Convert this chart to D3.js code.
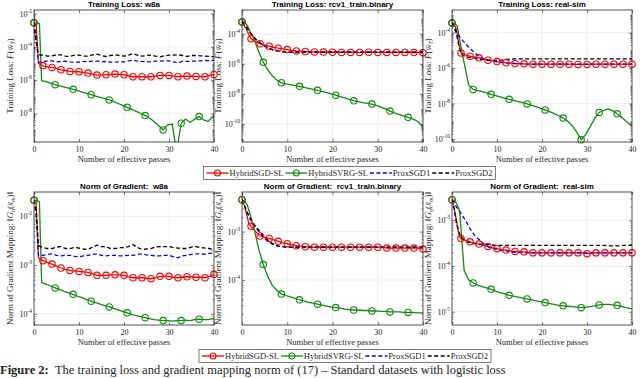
<!DOCTYPE html>
<html lang="en">
<head>
<meta charset="UTF-8">
<title>Training loss and gradient mapping norm</title>
<style>
  body { margin: 0; background: #fff; }
  svg text { font-family: "Liberation Serif", "DejaVu Serif", serif; fill: #262626; }
  .title { font-family: "Liberation Sans", Arial, sans-serif; font-weight: bold; font-size: 8px; fill: #000; white-space: pre; }
  .grid line { stroke: #e4e4e4; stroke-width: 0.6px; }
  .frame { fill: none; stroke: #262626; stroke-width: 0.8px; }
</style>
</head>
<body>
<svg id="fig" width="640" height="378"></svg>
<script src="https://d3js.org/d3.v7.min.js"></script>
<script>
// x positions (number of effective passes)
const passes = [0, 0.5, 1, 1.5, 2,
  3, 4, 5, 6, 7, 8, 9, 10, 11, 12,
  13, 14, 15, 16, 17, 18, 19, 20, 21, 22,
  23, 24, 25, 26, 27, 28, 29, 30, 31, 32,
  33, 34, 35, 36, 37, 38, 39, 40];
const greenPasses = [0, 0.7, 1.2, 1.7,
  2.7, 3.7, 4.7, 5.7, 6.7, 7.7, 8.7, 9.7, 10.7, 11.7,
  12.7, 13.7, 14.7, 15.7, 16.7, 17.7, 18.7, 19.7, 20.7, 21.7,
  22.7, 23.7, 24.7, 25.7, 26.7, 27.7, 28.7, 29.7, 30.7, 31.7,
  32.7, 33.7, 34.7, 35.7, 36.7, 37.7, 38.7, 39.7, 40];
const redMarks = [0, 2, 4, 6, 8, 10, 12, 14, 16, 18, 20, 22, 24, 26, 28, 30, 32, 34, 36, 38, 40];
const greenMarks = [0, 4.7, 8.7, 12.7, 16.7, 20.7, 24.7, 28.7, 32.7, 36.7];
const xTicks = [0, 10, 20, 30, 40];

const seriesNames = ["HybridSGD-SL", "HybridSVRG-SL", "ProxSGD1", "ProxSGD2"];

// all y values below are log10 of the plotted quantity

// Training loss: w8a
const lossW8aSGD = [-2.55, -2.7, -5.0, -5.08, -5.14,
  -5.2, -5.24, -5.3, -5.38, -5.43, -5.48, -5.5, -5.5, -5.55, -5.58,
  -5.65, -5.7, -5.69, -5.68, -5.66, -5.64, -5.66, -5.68, -5.74, -5.8,
  -5.8, -5.8, -5.8, -5.8, -5.76, -5.72, -5.72, -5.72, -5.76, -5.8,
  -5.78, -5.76, -5.77, -5.78, -5.79, -5.8, -5.72, -5.66];
const lossW8aSVRG = [-2.55, -2.55, -2.6, -6.04,
  -6.1, -6.18, -6.28, -6.35, -6.42, -6.49, -6.56, -6.64, -6.72, -6.8,
  -6.88, -6.96, -7.04, -7.12, -7.2, -7.3, -7.41, -7.52, -7.64, -7.76,
  -7.88, -8.0, -8.14, -8.3, -8.5, -8.75, -9.0, -8.7, -8.65, -10.3,
  -8.6, -8.35, -8.55, -8.35, -8.2, -8.4, -8.5, -8.2,
  -8.15];
const lossW8aProx1 = [-2.55, -3.5, -4.95, -4.9, -4.88,
  -4.86, -4.84, -4.9, -4.88, -4.86, -4.9, -4.92, -4.92, -4.88, -4.9,
  -4.86, -4.86, -4.9, -4.88, -4.92, -4.92, -4.9, -4.9, -4.84, -4.8,
  -4.86, -4.88, -4.9, -4.9, -4.86, -4.86, -4.84, -4.84, -4.9, -4.96,
  -4.88, -4.88, -4.86, -4.86, -4.84, -4.82, -4.84, -4.8];
const lossW8aProx2 = [-2.55, -3.8, -4.45, -4.5, -4.5,
  -4.56, -4.54, -4.48, -4.48, -4.56, -4.58, -4.5, -4.5, -4.56, -4.56,
  -4.48, -4.44, -4.52, -4.58, -4.52, -4.48, -4.52, -4.56, -4.5, -4.4,
  -4.5, -4.56, -4.52, -4.5, -4.56, -4.6, -4.54, -4.5, -4.5, -4.48,
  -4.52, -4.58, -4.52, -4.52, -4.54, -4.56, -4.58, -4.6];

// Training loss: rcv1_train.binary
const lossRcvSGD = [-3.21, -3.45, -3.72, -4.05, -4.33,
  -4.52, -4.66, -4.76, -4.83, -4.9, -4.96, -5.01, -5.05, -5.1, -5.14,
  -5.16, -5.18, -5.2, -5.21, -5.22, -5.22, -5.23, -5.23, -5.23, -5.24,
  -5.23, -5.24, -5.23, -5.24, -5.24, -5.23, -5.24, -5.24, -5.24, -5.24,
  -5.24, -5.24, -5.24, -5.24, -5.24, -5.25, -5.25, -5.26];
const lossRcvSVRG = [-3.21, -3.28, -3.45, -3.8,
  -4.4, -5.2, -5.9, -6.4, -6.8, -7.08, -7.26, -7.33, -7.39, -7.45,
  -7.5, -7.56, -7.63, -7.7, -7.76, -7.84, -7.92, -8.0, -8.09, -8.18,
  -8.27, -8.37, -8.46, -8.52, -8.58, -8.63, -8.68, -8.76, -8.88, -9.0,
  -9.14, -9.26, -9.37, -9.47, -9.56, -9.66, -9.8, -10.1,
  -10.4];
const lossRcvProx1 = [-3.21, -3.36, -3.57, -3.8, -4.02,
  -4.37, -4.62, -4.82, -4.98, -5.09, -5.16, -5.2, -5.22, -5.23, -5.23,
  -5.23, -5.23, -5.23, -5.23, -5.23, -5.23, -5.23, -5.23, -5.23, -5.23,
  -5.23, -5.23, -5.23, -5.23, -5.23, -5.23, -5.23, -5.23, -5.23, -5.23,
  -5.23, -5.23, -5.23, -5.23, -5.23, -5.23, -5.23, -5.23];
const lossRcvProx2 = [-3.21, -3.35, -3.55, -3.78, -4.0,
  -4.35, -4.6, -4.8, -4.97, -5.08, -5.15, -5.19, -5.21, -5.22, -5.23,
  -5.23, -5.23, -5.23, -5.23, -5.23, -5.23, -5.23, -5.23, -5.23, -5.23,
  -5.23, -5.23, -5.23, -5.23, -5.23, -5.23, -5.23, -5.23, -5.23, -5.23,
  -5.23, -5.23, -5.23, -5.23, -5.23, -5.23, -5.23, -5.23];

// Training loss: real-sim
const lossRealSGD = [-3.46, -3.55, -3.8, -4.6, -5.14,
  -5.25, -5.33, -5.38, -5.42, -5.49, -5.55, -5.59, -5.63, -5.67, -5.7,
  -5.72, -5.74, -5.75, -5.76, -5.77, -5.78, -5.78, -5.78, -5.78, -5.78,
  -5.78, -5.78, -5.78, -5.78, -5.79, -5.79, -5.79, -5.79, -5.78, -5.78,
  -5.78, -5.78, -5.78, -5.78, -5.78, -5.78, -5.78, -5.78];
const lossRealSVRG = [-3.46, -3.5, -3.65, -4.4,
  -5.7, -6.95, -7.2, -7.27, -7.33, -7.4, -7.48, -7.55, -7.62, -7.69,
  -7.76, -7.82, -7.89, -7.95, -8.02, -8.1, -8.18, -8.27, -8.36, -8.46,
  -8.57, -8.69, -8.82, -9.0, -9.25, -9.6, -10.05, -9.75, -9.3, -8.85,
  -8.5, -8.38, -8.3, -8.4, -8.58, -8.78, -9.0, -9.22,
  -9.27];
const lossRealProx1 = [-3.46, -3.6, -3.96, -4.15, -4.34,
  -4.62, -4.9, -5.12, -5.33, -5.46, -5.55, -5.6, -5.64, -5.67, -5.7,
  -5.72, -5.74, -5.75, -5.77, -5.78, -5.78, -5.78, -5.78, -5.78, -5.78,
  -5.78, -5.78, -5.78, -5.78, -5.78, -5.78, -5.78, -5.78, -5.78, -5.78,
  -5.78, -5.78, -5.78, -5.78, -5.78, -5.78, -5.78, -5.78];
const lossRealProx2 = [-3.46, -3.7, -4.1, -4.7, -5.18,
  -5.36, -5.4, -5.44, -5.48, -5.52, -5.55, -5.56, -5.57, -5.55, -5.51,
  -5.49, -5.48, -5.48, -5.48, -5.48, -5.48, -5.48, -5.48, -5.48, -5.48,
  -5.48, -5.48, -5.48, -5.48, -5.48, -5.48, -5.48, -5.48, -5.48, -5.48,
  -5.48, -5.48, -5.48, -5.48, -5.48, -5.48, -5.48, -5.48];

// Norm of gradient mapping: w8a
const gradW8aSGD = [-1.67, -1.75, -2.85, -2.89, -2.91,
  -2.95, -2.98, -3.02, -3.06, -3.09, -3.11, -3.12, -3.13, -3.14, -3.15,
  -3.18, -3.21, -3.21, -3.21, -3.2, -3.2, -3.2, -3.21, -3.24, -3.26,
  -3.26, -3.26, -3.27, -3.28, -3.26, -3.23, -3.23, -3.23, -3.25, -3.26,
  -3.25, -3.24, -3.24, -3.25, -3.25, -3.26, -3.23, -3.19];
const gradW8aSVRG = [-1.67, -1.67, -1.7, -3.36,
  -3.39, -3.43, -3.47, -3.5, -3.54, -3.57, -3.6, -3.64, -3.67, -3.71,
  -3.74, -3.77, -3.8, -3.83, -3.86, -3.89, -3.92, -3.95, -3.98, -4.01,
  -4.04, -4.06, -4.08, -4.1, -4.12, -4.13, -4.14, -4.14, -4.15, -4.14,
  -4.14, -4.13, -4.14, -4.12, -4.11, -4.12, -4.12, -4.1,
  -4.1];
const gradW8aProx1 = [-1.67, -2.0, -2.8, -2.79, -2.8,
  -2.78, -2.77, -2.8, -2.81, -2.8, -2.8, -2.82, -2.83, -2.81, -2.8,
  -2.78, -2.77, -2.8, -2.81, -2.8, -2.8, -2.81, -2.81, -2.8, -2.8,
  -2.78, -2.77, -2.79, -2.8, -2.81, -2.81, -2.8, -2.8, -2.83, -2.85,
  -2.81, -2.8, -2.78, -2.77, -2.77, -2.78, -2.76, -2.75];
const gradW8aProx2 = [-1.67, -1.9, -2.6, -2.62, -2.64,
  -2.66, -2.66, -2.63, -2.62, -2.66, -2.66, -2.64, -2.65, -2.67, -2.68,
  -2.63, -2.59, -2.62, -2.62, -2.66, -2.66, -2.64, -2.64, -2.62, -2.58,
  -2.64, -2.68, -2.67, -2.66, -2.63, -2.62, -2.62, -2.62, -2.64, -2.65,
  -2.66, -2.66, -2.63, -2.62, -2.64, -2.65, -2.66, -2.69];

// Norm of gradient mapping: rcv1_train.binary
const gradRcvSGD = [-2.34, -2.45, -2.64, -2.82, -2.89,
  -3.0, -3.09, -3.12, -3.14, -3.17, -3.2, -3.23, -3.25, -3.27, -3.29,
  -3.3, -3.31, -3.32, -3.32, -3.32, -3.32, -3.32, -3.32, -3.32, -3.32,
  -3.32, -3.32, -3.32, -3.32, -3.32, -3.32, -3.32, -3.32, -3.32, -3.34,
  -3.34, -3.34, -3.34, -3.34, -3.34, -3.34, -3.34, -3.36];
const gradRcvSVRG = [-2.34, -2.37, -2.46, -2.61,
  -2.96, -3.36, -3.68, -3.93, -4.11, -4.21, -4.29, -4.32, -4.35, -4.38,
  -4.41, -4.43, -4.46, -4.48, -4.5, -4.52, -4.54, -4.56, -4.57, -4.58,
  -4.6, -4.61, -4.62, -4.62, -4.63, -4.63, -4.64, -4.64, -4.65, -4.65,
  -4.66, -4.66, -4.66, -4.67, -4.67, -4.67, -4.68, -4.68,
  -4.68];
const gradRcvProx1 = [-2.34, -2.46, -2.58, -2.68, -2.77,
  -2.91, -3.03, -3.14, -3.22, -3.27, -3.3, -3.31, -3.32, -3.32, -3.32,
  -3.32, -3.32, -3.32, -3.32, -3.32, -3.32, -3.32, -3.32, -3.32, -3.32,
  -3.32, -3.32, -3.32, -3.32, -3.32, -3.32, -3.32, -3.32, -3.32, -3.32,
  -3.32, -3.32, -3.32, -3.32, -3.32, -3.32, -3.32, -3.32];
const gradRcvProx2 = [-2.34, -2.45, -2.57, -2.66, -2.75,
  -2.89, -3.0, -3.11, -3.2, -3.26, -3.3, -3.31, -3.32, -3.32, -3.32,
  -3.32, -3.32, -3.32, -3.32, -3.32, -3.32, -3.32, -3.32, -3.32, -3.32,
  -3.32, -3.32, -3.32, -3.32, -3.32, -3.32, -3.32, -3.32, -3.32, -3.32,
  -3.32, -3.32, -3.32, -3.32, -3.32, -3.32, -3.32, -3.32];

// Norm of gradient mapping: real-sim
const gradRealSGD = [-2.55, -2.75, -3.0, -3.3, -3.4,
  -3.44, -3.47, -3.5, -3.52, -3.55, -3.57, -3.6, -3.62, -3.64, -3.65,
  -3.67, -3.68, -3.69, -3.69, -3.7, -3.71, -3.71, -3.71, -3.71, -3.71,
  -3.71, -3.71, -3.71, -3.71, -3.71, -3.71, -3.71, -3.73, -3.72, -3.71,
  -3.71, -3.71, -3.71, -3.71, -3.71, -3.71, -3.71, -3.71];
const gradRealSVRG = [-2.55, -2.58, -2.67, -2.8,
  -4.1, -4.3, -4.37, -4.42, -4.45, -4.48, -4.51, -4.55, -4.58, -4.61,
  -4.64, -4.66, -4.68, -4.7, -4.72, -4.74, -4.76, -4.78, -4.8, -4.82,
  -4.84, -4.86, -4.87, -4.88, -4.89, -4.9, -4.91, -4.9, -4.89, -4.87,
  -4.85, -4.84, -4.84, -4.85, -4.86, -4.88, -4.91, -4.93,
  -4.93];
const gradRealProx1 = [-2.55, -2.62, -2.71, -2.78, -2.85,
  -3.0, -3.18, -3.33, -3.42, -3.51, -3.58, -3.61, -3.64, -3.66, -3.67,
  -3.69, -3.7, -3.7, -3.71, -3.71, -3.71, -3.71, -3.71, -3.71, -3.71,
  -3.71, -3.71, -3.71, -3.71, -3.71, -3.71, -3.71, -3.71, -3.71, -3.71,
  -3.71, -3.71, -3.71, -3.71, -3.71, -3.71, -3.71, -3.71];
const gradRealProx2 = [-2.55, -2.75, -3.07, -3.25, -3.36,
  -3.46, -3.49, -3.51, -3.52, -3.53, -3.53, -3.54, -3.55, -3.55, -3.55,
  -3.55, -3.55, -3.55, -3.55, -3.55, -3.55, -3.55, -3.55, -3.55, -3.55,
  -3.55, -3.55, -3.55, -3.55, -3.55, -3.55, -3.55, -3.55, -3.55, -3.55,
  -3.55, -3.55, -3.56, -3.56, -3.56, -3.55, -3.55, -3.54];

// y tick exponents per panel
const lossW8aTicks = [-8, -6, -4, -2];
const lossRcvTicks = [-10, -8, -6, -4];
const lossRealTicks = [-10, -8, -6, -4];
const gradW8aTicks = [-4, -3, -2];
const gradRcvTicks = [-4, -3];
const gradRealTicks = [-5, -4, -3];

const svg = d3.select("#fig");
const cols = [[34, 214], [242, 423], [452, 632]];
const rows = [[10, 142], [192, 325]];
const axisColor = "#262626";

const panels = [
  {id: 1, col: 0, row: 0, title: "Training Loss: w8a", lo: -9.73, hi: -1.78, ticks: lossW8aTicks,
   sgd: lossW8aSGD, svrg: lossW8aSVRG, p1: lossW8aProx1, p2: lossW8aProx2, kind: "loss"},
  {id: 2, col: 1, row: 0, title: "Training Loss: rcv1_train.binary", lo: -11.2, hi: -2.42, ticks: lossRcvTicks,
   sgd: lossRcvSGD, svrg: lossRcvSVRG, p1: lossRcvProx1, p2: lossRcvProx2, kind: "loss"},
  {id: 3, col: 2, row: 0, title: "Training Loss: real-sim", lo: -10.17, hi: -2.72, ticks: lossRealTicks,
   sgd: lossRealSGD, svrg: lossRealSVRG, p1: lossRealProx1, p2: lossRealProx2, kind: "loss"},
  {id: 4, col: 0, row: 1, title: "Norm of Gradient:  w8a", lo: -4.23, hi: -1.5, ticks: gradW8aTicks,
   sgd: gradW8aSGD, svrg: gradW8aSVRG, p1: gradW8aProx1, p2: gradW8aProx2, kind: "grad"},
  {id: 5, col: 1, row: 1, title: "Norm of Gradient:  rcv1_train.binary", lo: -4.93, hi: -2.18, ticks: gradRcvTicks,
   sgd: gradRcvSGD, svrg: gradRcvSVRG, p1: gradRcvProx1, p2: gradRcvProx2, kind: "grad"},
  {id: 6, col: 2, row: 1, title: "Norm of Gradient:  real-sim", lo: -5.29, hi: -2.38, ticks: gradRealTicks,
   sgd: gradRealSGD, svrg: gradRealSVRG, p1: gradRealProx1, p2: gradRealProx2, kind: "grad"}
];

function styleAxis(sel) {
  sel.attr("font-family", null).attr("font-size", 8);
  sel.select(".domain").remove();
  sel.selectAll("line").attr("stroke", axisColor).attr("stroke-width", 0.6);
  sel.selectAll("text").attr("fill", axisColor);
}

function drawPanel(p) {
  const [x0, x1] = cols[p.col];
  const [y0, y1] = rows[p.row];
  const x = d3.scaleLinear().domain([0, 40]).range([x0, x1]);
  const y = d3.scaleLog().domain([10 ** p.lo, 10 ** p.hi]).range([y1, y0]);
  const g = svg.append("g");

  svg.append("clipPath").attr("id", "clip" + p.id).append("rect")
    .attr("x", x0).attr("y", y0).attr("width", x1 - x0).attr("height", y1 - y0);

  // grid
  const grid = g.append("g").attr("class", "grid");
  grid.selectAll("line.gx").data(xTicks.slice(1, -1)).join("line").attr("class", "gx")
    .attr("x1", d => x(d)).attr("x2", d => x(d)).attr("y1", y0).attr("y2", y1);
  grid.selectAll("line.gy").data(p.ticks).join("line").attr("class", "gy")
    .attr("x1", x0).attr("x2", x1).attr("y1", d => y(10 ** d)).attr("y2", d => y(10 ** d));

  // minor log ticks
  const minor = [];
  for (let k = Math.floor(p.lo); k <= Math.ceil(p.hi); k++) {
    for (let m = 1; m <= 9; m++) {
      const v = k + Math.log10(m);
      if (v > p.lo && v < p.hi && !(m === 1 && p.ticks.includes(k))) minor.push(10 ** v);
    }
  }
  const major = p.ticks.map(t => 10 ** t);

  g.append("g").attr("transform", `translate(${x0},0)`)
    .call(d3.axisLeft(y).tickValues(minor).tickSizeInner(-1.5).tickSizeOuter(0).tickFormat(""))
    .call(styleAxis);
  g.append("g").attr("transform", `translate(${x1},0)`)
    .call(d3.axisRight(y).tickValues(minor).tickSizeInner(-1.5).tickSizeOuter(0).tickFormat(""))
    .call(styleAxis);
  g.append("g").attr("transform", `translate(${x0},0)`)
    .call(d3.axisLeft(y).tickValues(major).tickSizeInner(-3).tickSizeOuter(0).tickFormat(""))
    .call(styleAxis);
  g.append("g").attr("transform", `translate(${x1},0)`)
    .call(d3.axisRight(y).tickValues(major).tickSizeInner(-3).tickSizeOuter(0).tickFormat(""))
    .call(styleAxis);
  g.append("g").attr("transform", `translate(0,${y1})`)
    .call(d3.axisBottom(x).tickValues(xTicks).tickSizeInner(-3).tickSizeOuter(0).tickPadding(4))
    .call(styleAxis);
  g.append("g").attr("transform", `translate(0,${y0})`)
    .call(d3.axisTop(x).tickValues(xTicks).tickSizeInner(-3).tickSizeOuter(0).tickFormat(""))
    .call(styleAxis);

  // y tick labels 10^k
  p.ticks.forEach(t => {
    const lab = g.append("text").attr("x", x0 - 2).attr("y", y(10 ** t) + 3)
      .attr("text-anchor", "end").attr("font-size", 8);
    lab.append("tspan").text("10");
    lab.append("tspan").attr("font-size", 5.5).attr("dy", -4).text("-" + Math.abs(t));
  });

  // series
  const line = d3.line().x(d => x(d[0])).y(d => y(10 ** d[1]));
  const lines = g.append("g").attr("clip-path", `url(#clip${p.id})`).attr("fill", "none");
  const sgdPts = d3.zip(passes, p.sgd);
  const svrgPts = d3.zip(greenPasses, p.svrg);
  lines.append("path").attr("d", line(sgdPts)).attr("stroke", "#ff0000").attr("stroke-width", 1.3);
  lines.append("path").attr("d", line(svrgPts)).attr("stroke", "#118a11").attr("stroke-width", 1.3);
  lines.append("path").attr("d", line(d3.zip(passes, p.p1))).attr("stroke", "#0000ff")
    .attr("stroke-width", 1.3).attr("stroke-dasharray", "4,2.5");
  lines.append("path").attr("d", line(d3.zip(passes, p.p2))).attr("stroke", "#000")
    .attr("stroke-width", 1.3).attr("stroke-dasharray", "4,2.5");

  g.append("g").selectAll("circle").data(sgdPts.filter(d => redMarks.includes(d[0]))).join("circle")
    .attr("cx", d => x(d[0])).attr("cy", d => y(10 ** d[1])).attr("r", 3.2)
    .attr("fill", "none").attr("stroke", "#ff0000").attr("stroke-width", 1.1);
  g.append("g").selectAll("circle").data(svrgPts.filter(d => greenMarks.includes(d[0]))).join("circle")
    .attr("cx", d => x(d[0])).attr("cy", d => y(10 ** d[1])).attr("r", 3.2)
    .attr("fill", "none").attr("stroke", "#118a11").attr("stroke-width", 1.1);

  // frame
  g.append("rect").attr("class", "frame")
    .attr("x", x0).attr("y", y0).attr("width", x1 - x0).attr("height", y1 - y0);

  // title and axis labels
  g.append("text").attr("class", "title").attr("x", (x0 + x1) / 2).attr("y", y0 - 3)
    .attr("text-anchor", "middle").text(p.title);
  g.append("text").attr("x", (x0 + x1) / 2).attr("y", y1 + 20)
    .attr("text-anchor", "middle").attr("font-size", 8.5).text("Number of effective passes");

  const yl = g.append("text").attr("text-anchor", "middle").attr("font-size", 9)
    .attr("transform", `translate(${x0 - 21},${(y0 + y1) / 2}) rotate(-90)`);
  if (p.kind === "loss") {
    yl.append("tspan").text("Training Loss: ");
    yl.append("tspan").attr("font-style", "italic").text("F");
    yl.append("tspan").text("(");
    yl.append("tspan").attr("font-style", "italic").text("w\u0304");
    yl.append("tspan").attr("font-size", 6).attr("font-style", "italic").attr("dy", 2).text("T");
    yl.append("tspan").attr("dy", -2).text(")");
  } else {
    yl.append("tspan").text("Norm of Gradient Mapping: \u2016");
    yl.append("tspan").attr("font-style", "italic").text("G");
    yl.append("tspan").attr("font-size", 6).attr("font-style", "italic").attr("dy", 2).text("\u03B7");
    yl.append("tspan").attr("dy", -2).text("(");
    yl.append("tspan").attr("font-style", "italic").text("x\u0304");
    yl.append("tspan").attr("font-size", 6).attr("font-style", "italic").attr("dy", 2).text("m");
    yl.append("tspan").attr("dy", -2).text(")\u2016");
  }
}

panels.forEach(drawPanel);

// legends
const legendStyles = [
  {color: "#ff0000", dash: null, marker: true},
  {color: "#118a11", dash: null, marker: true},
  {color: "#0000ff", dash: "4,2.5", marker: false},
  {color: "#000", dash: "4,2.5", marker: false}
];

function drawLegend(cx, cy) {
  const g = svg.append("g");
  const box = g.append("rect").attr("fill", "#fff").attr("stroke", axisColor).attr("stroke-width", 0.6);
  const items = g.append("g");
  const lineLen = 22;
  let cursor = 0;
  seriesNames.forEach((name, i) => {
    const s = legendStyles[i];
    items.append("line").attr("x1", cursor).attr("x2", cursor + lineLen).attr("y1", 0).attr("y2", 0)
      .attr("stroke", s.color).attr("stroke-width", 1.3).attr("stroke-dasharray", s.dash);
    if (s.marker) {
      items.append("circle").attr("cx", cursor + lineLen / 2).attr("cy", 0).attr("r", 3)
        .attr("fill", "none").attr("stroke", s.color).attr("stroke-width", 1.1);
    }
    cursor += lineLen + 1;
    const t = items.append("text").attr("x", cursor).attr("y", 3).attr("font-size", 8.5).text(name);
    cursor += t.node().getComputedTextLength() + 2;
  });
  const pad = 2;
  const w = cursor + pad * 2;
  const h = 13;
  box.attr("x", cx - w / 2).attr("y", cy - h / 2).attr("width", w).attr("height", h);
  items.attr("transform", `translate(${cx - w / 2 + pad + 1},${cy})`);
}

drawLegend(349.5, 173);
drawLegend(345, 356);

// caption under the figure
const cap = svg.append("text").attr("x", 0).attr("y", 374).attr("font-size", 12.5)
  .style("white-space", "pre").attr("fill", "#000");
cap.append("tspan").attr("font-weight", "bold").text("Figure 2:  ");
cap.append("tspan").text("The training loss and gradient mapping norm of (17) \u2013 Standard datasets with logistic loss");
</script>
</body>
</html>
